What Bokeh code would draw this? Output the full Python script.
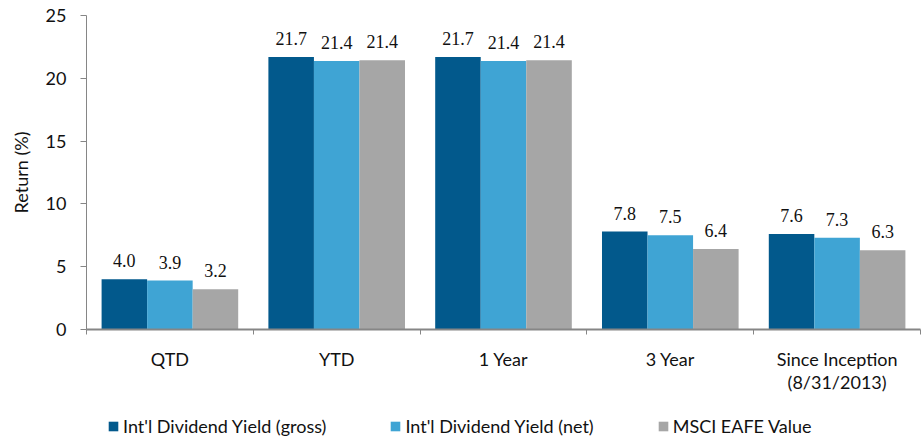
from bokeh.plotting import figure
from bokeh.layouts import column
from bokeh.models import (ColumnDataSource, Range1d, FixedTicker, LabelSet, Legend, LegendItem)
from bokeh.transform import dodge
from bokeh.embed import file_html
from bokeh.resources import INLINE

categories = ["QTD", "YTD", "1 Year", "3 Year", "Since Inception\n(8/31/2013)"]
gross = [4.0, 21.7, 21.7, 7.8, 7.6]
net = [3.9, 21.37, 21.37, 7.5, 7.3]
msci = [3.2, 21.44, 21.44, 6.4, 6.3]
series_names = ["Int'l Dividend Yield (gross)", "Int'l Dividend Yield (net)", "MSCI EAFE Value"]
colors = ["#02598C", "#3FA4D4", "#A6A6A6"]
y_ticks = [0, 5, 10, 15, 20, 25]

FONT = "Lato"
FS = "18px"
TXT = "#111111"
AX = "#868686"

n = len(categories)
centers = [i + 0.5 for i in range(n)]
bounds = list(range(n + 1))

source = ColumnDataSource(dict(
    x=centers, cat=categories,
    gross=gross, net=net, msci=msci,
    gross_lbl=[f"{v:.1f}" for v in gross],
    net_lbl=[f"{v:.1f}" for v in net],
    msci_lbl=[f"{v:.1f}" for v in msci],
))

p = figure(x_range=Range1d(0, n), y_range=Range1d(0, 25),
           width=923, height=400,
           min_border_left=86, min_border_top=15, min_border_right=3, min_border_bottom=71,
           output_backend="svg", toolbar_location=None)

p.outline_line_color = None
p.xgrid.visible = False
p.ygrid.visible = False

xa = p.xaxis[0]
xa.ticker = FixedTicker(ticks=centers, minor_ticks=bounds)
xa.major_label_overrides = {c: lab for c, lab in zip(centers, categories)}
xa.major_tick_line_color = None
xa.major_tick_in = 0
xa.major_tick_out = 0
xa.minor_tick_in = 0
xa.minor_tick_out = 5
xa.minor_tick_line_color = AX
xa.axis_line_color = AX
xa.axis_line_width = 2
xa.major_label_text_font = FONT
xa.major_label_text_font_size = FS
xa.major_label_text_color = TXT
xa.major_label_text_line_height = 1.05
xa.major_label_standoff = 13

ya = p.yaxis[0]
ya.ticker = FixedTicker(ticks=y_ticks)
ya.major_tick_in = 0
ya.major_tick_out = 6
ya.minor_tick_line_color = None
ya.axis_line_color = AX
ya.major_tick_line_color = AX
ya.major_label_text_font = FONT
ya.major_label_text_font_size = FS
ya.major_label_text_color = TXT
ya.major_label_standoff = 14
ya.axis_label = "Return (%)"
ya.axis_label_text_font = FONT
ya.axis_label_text_font_size = FS
ya.axis_label_text_font_style = "normal"
ya.axis_label_text_color = TXT
ya.axis_label_standoff = 11

w = 0.273
offsets = [-w, 0.0, w]
fields = ["gross", "net", "msci"]
for f, off, col in zip(fields, offsets, colors):
    p.vbar(x=dodge("x", off), top=f, width=w, source=source,
           fill_color=col, line_color=None)
    lbl = LabelSet(x=dodge("x", off), y=f, text=f + "_lbl",
                   source=source, y_offset=12,
                   text_align="center", text_baseline="alphabetic",
                   text_font=FONT, text_font_size=FS, text_color=TXT)
    p.add_layout(lbl)

# legend strip below the chart
p2 = figure(x_range=Range1d(0, n), y_range=Range1d(100, 101),
            width=923, height=38, min_border=0,
            x_axis_location=None, y_axis_location=None,
            output_backend="svg", toolbar_location=None)
p2.outline_line_color = None
p2.xgrid.visible = False
p2.ygrid.visible = False
items = []
for f, off, col, name in zip(fields, offsets, colors, series_names):
    r = p2.vbar(x=dodge("x", off), top=f, width=w, source=source,
                fill_color=col, line_color=None)
    items.append(LegendItem(label=name, renderers=[r]))

legend = Legend(items=items, orientation="horizontal", location=(21, 1),
                border_line_color=None, background_fill_alpha=0,
                label_text_font=FONT, label_text_font_size=FS, label_text_color=TXT,
                glyph_width=12, glyph_height=12, spacing=63, padding=0, margin=0,
                label_standoff=4)
p2.add_layout(legend, "center")

layout = column(p, p2, spacing=0)
open("out.html", "w").write(file_html(layout, INLINE))
